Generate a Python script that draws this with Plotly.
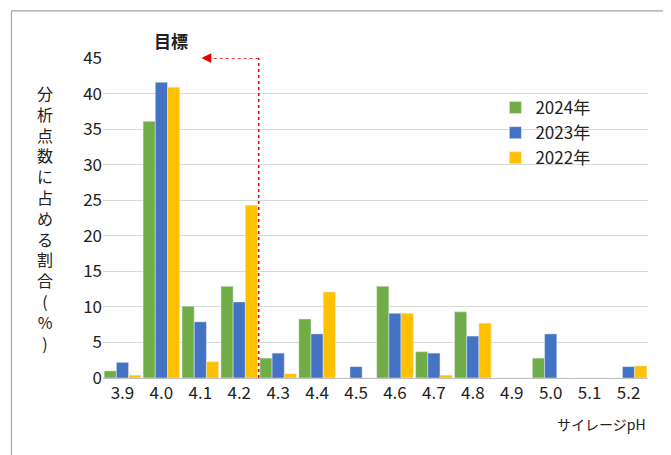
import plotly.graph_objects as go

ph = ["3.9", "4.0", "4.1", "4.2", "4.3", "4.4", "4.5", "4.6", "4.7", "4.8", "4.9", "5.0", "5.1", "5.2"]
y2024 = [1.0, 36.1, 10.1, 12.9, 2.8, 8.3, 0, 12.9, 3.7, 9.3, 0, 2.8, 0, 0]
y2023 = [2.2, 41.6, 7.9, 10.7, 3.5, 6.2, 1.6, 9.1, 3.5, 5.9, 0, 6.2, 0, 1.6]
y2022 = [0.4, 40.9, 2.3, 24.3, 0.6, 12.1, 0, 9.1, 0.4, 7.7, 0, 0, 0, 1.7]

font = "Noto Sans CJK JP"
fig = go.Figure()
fig.add_trace(go.Bar(x=ph, y=y2024, name="2024年", marker_color="#70AD47"))
fig.add_trace(go.Bar(x=ph, y=y2023, name="2023年", marker_color="#4472C4"))
fig.add_trace(go.Bar(x=ph, y=y2022, name="2022年", marker_color="#FFC000"))

fig.update_layout(
    width=671, height=455, barmode="group", bargap=0.06, bargroupgap=0,
    plot_bgcolor="white", paper_bgcolor="white",
    margin=dict(l=95, r=31, t=50, b=85, autoexpand=False),
    font=dict(family=font, size=17, color="#222"),
    legend=dict(x=0.72, y=0.9, bgcolor="rgba(0,0,0,0)", font=dict(size=17),
                itemwidth=30, tracegroupgap=0),
    showlegend=True,
)
fig.update_xaxes(showline=True, linecolor="#bfbfbf", ticks="outside", ticklen=0,
                 tickfont=dict(size=17))
fig.update_yaxes(range=[0, 45], dtick=5, showgrid=True, gridcolor="#d9d9d9",
                 zeroline=False, tickfont=dict(size=17))

title_chars = list("分析点数に占める割合") + ["(", "%", ")"]
fig.add_annotation(x=-0.125, y=0.5, xref="paper", yref="paper", showarrow=False,
                   text="<br>".join(title_chars), font=dict(size=16), align="center")
fig.add_annotation(x=1.0, y=-0.18, xref="paper", yref="paper", showarrow=False,
                   xanchor="right", text="サイレージpH", font=dict(size=14))
fig.add_annotation(x=0.09, y=1.1, xref="paper", yref="paper", showarrow=False,
                   text="<b>目標</b>", font=dict(size=17))

# target line
fig.add_shape(type="line", x0=3.5, x1=3.5, y0=0, y1=45, xref="x", yref="y",
              line=dict(color="#e00000", width=1.5, dash="dot"))
fig.add_shape(type="line", x0=3.5, x1=2.25, y0=45, y1=45, xref="x", yref="y",
              line=dict(color="#e00000", width=1.5, dash="dot"))
fig.add_annotation(x=2.03, y=45, ax=2.3, ay=45, xref="x", yref="y", axref="x", ayref="y",
                   text="", showarrow=True, arrowhead=2, arrowsize=1.3, arrowwidth=1.5,
                   arrowcolor="#e00000")

fig.add_shape(type="rect", xref="paper", yref="paper", x0=-0.168, x1=1.052, y0=-0.257, y1=1.147,
              line=dict(color="#a6a6a6", width=1.2))

fig.write_html("out.html")
